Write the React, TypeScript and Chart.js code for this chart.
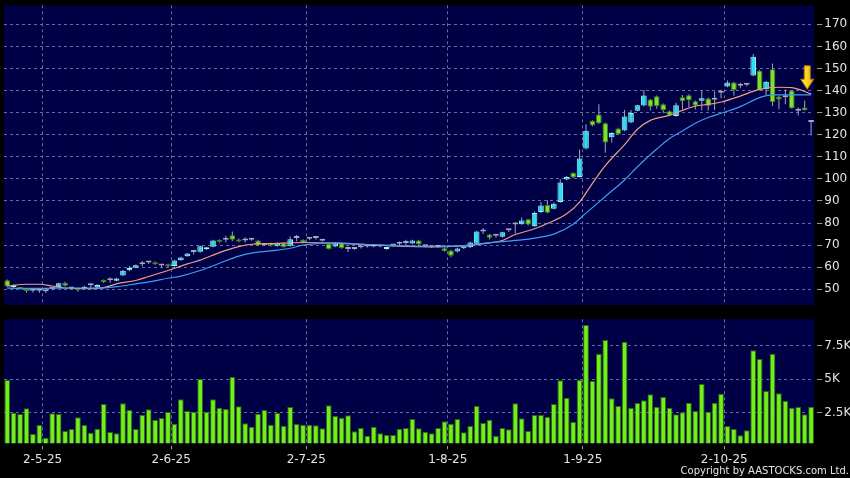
import React, { useEffect, useRef } from "react";
import { Chart, registerables } from "chart.js";

Chart.register(...registerables);

// ---------- data ----------
const dateLabels = ["2-5-25", "2-6-25", "2-7-25", "1-8-25", "1-9-25", "2-10-25"];
// month boundaries (between last bar of previous month and first bar of month)
const dateTickIdx = [5.5, 25.5, 46.5, 68.5, 89.5, 111.5];

const priceTicks = [50, 60, 70, 80, 90, 100, 110, 120, 130, 140, 150, 160, 170];
const volTicks = [2500, 5000, 7500];
const volTickLabels = ["2.5K", "5K", "7.5K"];

const openPrices = [
  54.1, 51, 50.7, 49.8, 49.4, 49.3, 49.1, 50.2, 50.9, 52.9,
  50.4, 50.2, 50.3, 51.8, 50.8, 54.2, 54.1, 53.9, 56.3, 58.6,
  59.8, 61.4, 62.2, 62.2, 60.8, 61.3, 60.6, 63.2, 65, 66.9,
  67, 68.1, 69.3, 72.3, 72.5, 74.5, 72.4, 72.1, 72.4, 72.1,
  70, 70.9, 69.7, 70.9, 69.7, 73.2, 72.4, 72.9, 73.2, 72,
  70.6, 69.4, 70.9, 68.3, 68.3, 69.1, 69.4, 69.4, 69.4, 68.2,
  69.8, 70.6, 71, 70.8, 72.1, 69.5, 69.1, 69.2, 68.6, 67.6,
  67.1, 68.6, 69, 70.6, 76.2, 74.8, 74.2, 73.8, 76.7, 79.4,
  79.5, 81.7, 78.6, 85, 88.2, 86.5, 89.5, 99.7, 102.7, 100.9,
  113.8, 126.2, 129.2, 125.2, 118.8, 122.8, 121.9, 125.5, 130.9, 133.2,
  135.9, 137.4, 133.8, 130.6, 128.5, 137, 137.9, 135.2, 135.4, 136.4,
  135.8, 139, 141.8, 143.7, 142.2, 142.6, 146.8, 149, 140.7, 149.6,
  137.2, 137, 140, 130.8, 132.3, 125.8,
];
const highPrices = [
  54.5, 52.2, 51, 50.2, 50.2, 50.4, 49.8, 50.8, 53, 53.4,
  50.9, 50.8, 51.6, 52.6, 52.3, 54.4, 55.3, 55.2, 58.8, 60.6,
  61.2, 62.8, 62.8, 62.6, 61.5, 61.6, 63.4, 64.7, 66.5, 67.9,
  69.8, 69.2, 72.4, 72.6, 74.2, 76.2, 73, 73.6, 72.8, 72.5,
  70.5, 71.2, 71.2, 71.2, 73.9, 74.6, 72.7, 73.6, 74, 72.5,
  71, 71.2, 71.2, 69.4, 68.8, 69.6, 69.9, 70.4, 69.8, 69.3,
  70.3, 71.6, 72.4, 72.4, 72.4, 70, 69.6, 70, 68.9, 67.9,
  68.8, 69.2, 71.6, 76.5, 77.8, 75.1, 74.6, 76.1, 77.4, 80.5,
  82.5, 82, 85.2, 89.5, 90.3, 89.3, 99.8, 101.3, 103, 113.3,
  124.7, 126.5, 133.8, 125.5, 121.1, 123.1, 131.3, 131.2, 133.6, 140.2,
  136.2, 137.8, 134.1, 131, 134.5, 138, 138.3, 135.5, 140, 136.8,
  139.6, 140.4, 144.5, 144, 143.5, 143.2, 156.5, 149.3, 144.3, 152.3,
  137.5, 140.5, 140.3, 132.3, 135.5, 126,
];
const lowPrices = [
  51, 50.6, 49.8, 48.5, 48.6, 48.5, 48.3, 49.6, 50.7, 51.3,
  50, 48.9, 50, 50.6, 50.6, 52.9, 53, 53.6, 56, 58.2,
  59.5, 60.3, 61.5, 61.1, 60, 60, 60.3, 62.9, 64.7, 65.8,
  66.7, 67.8, 69, 71.1, 71.2, 71.8, 71.3, 71.2, 72, 69.8,
  69.6, 69.4, 69.3, 68.9, 69.4, 71.8, 70.9, 72.2, 72.6, 71.6,
  68, 69.1, 68.4, 66.9, 67.9, 68.5, 68.9, 69.1, 69, 67.9,
  69.3, 69.5, 70.1, 70.5, 70.1, 69, 68.7, 68.8, 67, 64.5,
  66.7, 68.1, 68.7, 70.3, 75.1, 72.6, 73.3, 73.5, 75.9, 75.3,
  79.2, 78.9, 78.2, 84.6, 84.4, 86.2, 89.2, 99.4, 100.3, 100.6,
  113.3, 123.8, 124.9, 111.8, 116.5, 120, 121.6, 125.2, 130.6, 132.9,
  131, 131.8, 129.7, 128.4, 128.2, 131.5, 132.5, 131.4, 131, 130.8,
  131.2, 136.5, 141.5, 137.6, 141, 142, 146.5, 140, 138, 133,
  131.5, 133.8, 131.8, 128.8, 130.8, 119.6,
];
const closePrices = [
  51.4, 51.6, 50.1, 49.2, 49.4, 49.3, 49.1, 50.2, 52.7, 51.6,
  50.4, 49.6, 51.2, 51.8, 52, 53.2, 54.1, 54.9, 58.4, 59.6,
  60.9, 61.4, 62.2, 61.4, 60.8, 60.4, 63.1, 64.4, 66.2, 66.9,
  69.5, 68.9, 72.1, 71.5, 72.5, 72.4, 71.7, 72.1, 72.4, 70,
  70, 69.7, 70.9, 69.2, 72.7, 73.2, 71.2, 72.9, 73.2, 72,
  68.3, 70.9, 68.7, 68.3, 68.3, 69.1, 69.4, 70, 69.4, 69,
  69.8, 70.6, 71, 72.1, 70.4, 69.5, 69.1, 69.6, 67.3, 65.2,
  68.5, 68.6, 71.2, 76.2, 76.2, 73.3, 74.2, 75.8, 76.7, 79.4,
  81.2, 79.3, 84.5, 87.9, 84.7, 88.8, 98.4, 100.9, 100.6, 109.2,
  121.8, 124.2, 125.2, 116.5, 120.8, 120.3, 128.3, 129.8, 133.3, 137.8,
  132.7, 133, 131.2, 128.7, 133.4, 135.2, 135.6, 133.2, 136.5, 133.1,
  135.8, 139, 143.7, 140.3, 142.2, 142.6, 155.3, 140.3, 144, 134.8,
  136, 137, 132, 130.8, 131.1, 125.8,
];
const volumes = [
  4950, 2500, 2400, 2825, 900, 1575, 625, 2450, 2400, 1125,
  1275, 2150, 1575, 1000, 1300, 3150, 1050, 950, 3200, 2700,
  1275, 2350, 2750, 1950, 2100, 2550, 1675, 3500, 2625, 2575,
  5025, 2575, 3500, 2875, 2775, 5175, 2975, 1700, 1450, 2425,
  2700, 1600, 2475, 1525, 2925, 1650, 1600, 1600, 1550, 1325,
  3050, 2250, 2125, 2300, 1100, 1350, 775, 1450, 950, 825,
  825, 1300, 1350, 2025, 1325, 1075, 950, 1350, 1850, 1675,
  2025, 1025, 1500, 3000, 1725, 1975, 775, 1350, 1250, 3200,
  2075, 1125, 2325, 2325, 2175, 3150, 4925, 3625, 1800, 4975,
  9075, 4875, 6900, 7950, 3575, 3000, 7825, 2875, 3225, 3425,
  3875, 2950, 3675, 2875, 2375, 2525, 3250, 2625, 4650, 2575,
  3250, 3925, 1500, 1275, 800, 1175, 7175, 6525, 4125, 6925,
  3950, 3400, 2875, 2925, 2375, 2950,
];

// moving averages, read at these bar positions
const maShortIdx = [0, 3, 5, 7, 9, 13, 15, 17, 20, 22, 25, 28, 30, 33, 36, 38, 41, 46, 51, 56, 61, 64, 67, 70, 72, 75, 77, 79, 82, 84, 87, 89, 91, 93, 96, 98, 100, 103, 105, 107, 109, 111, 114, 117, 120, 122, 125];
const maShortVal = [51.5, 52.3, 52.3, 51.5, 50.6, 50.3, 50.8, 52.5, 54, 55.8, 58.5, 61.5, 63.2, 66.6, 69.3, 70.4, 70.7, 71.2, 70.9, 70.2, 69.5, 69.3, 69.2, 69.5, 69.9, 71, 72.1, 74.8, 77.4, 79.8, 84.2, 89.5, 98, 106, 115.5, 122.5, 126.5, 128.8, 131, 133, 133.7, 134.8, 137.5, 140.5, 141.5, 141.3, 138.5];
const maLongIdx = [0, 5, 10, 14, 17, 20, 22, 25, 27, 30, 33, 36, 38, 41, 44, 46, 48, 51, 56, 61, 66, 71, 74, 77, 80, 82, 85, 88, 90, 92, 94, 96, 98, 101, 103, 105, 107, 109, 111, 114, 117, 119, 122, 125];
const maLongVal = [50.5, 50.4, 50.6, 50.5, 51.2, 52.5, 53.4, 55, 56, 58.5, 61.8, 65, 66.4, 67.4, 68.6, 70, 70.7, 71, 70.3, 69.8, 69.5, 69.8, 70.8, 71.6, 72.4, 73.2, 75, 79.5, 84.5, 89.5, 94.5, 99.5, 105.5, 113.5, 118.3, 121.7, 125.2, 127.8, 129.7, 132.7, 136.8, 138, 138, 138];

const copyrightText = "Copyright by AASTOCKS.com Ltd.";

// ---------- styles ----------
const NAVY = "#000046";
const GRID = "#6a6a9c";
const TEXT = "#e4e4e4";
const TICK = "#9a9aa8";
const UP_FILL = "#30dcee";
const UP_BORDER = "#9af6ff";
const DN_FILL = "#7ee22c";
const DN_BORDER = "#3d8a12";
const DOJI = "#a8a8b8";
const WICK = "#a0a0b0";
const VOL_FILL = "#72ee1a";
const VOL_BORDER = "#2c6a08";
const MA_SHORT = "#ef9e80";
const MA_LONG = "#3f9cf0";
const FONT = "'DejaVu Sans', sans-serif";

const N = openPrices.length;
const XMIN = -0.5;
const XMAX = N - 0.5;

const plotBg = {
  id: "plotBg",
  beforeDraw(chart: any) {
    const { ctx, chartArea: a } = chart;
    ctx.save();
    ctx.fillStyle = NAVY;
    ctx.fillRect(a.left, a.top, a.right - a.left, a.bottom - a.top);
    ctx.restore();
  },
};

const arrowMarker = {
  id: "arrowMarker",
  afterDatasetsDraw(chart: any) {
    const { ctx, scales } = chart;
    const cx = scales.x.getPixelForValue(124.4);
    const top = scales.y.getPixelForValue(151.2);
    const tip = scales.y.getPixelForValue(140.6);
    const headH = 10;
    const shaft = 3;
    const head = 6.5;
    ctx.save();
    const g = ctx.createLinearGradient(cx - head, 0, cx + head, 0);
    g.addColorStop(0, "#ffe36a");
    g.addColorStop(0.5, "#ffd21c");
    g.addColorStop(1, "#e8a400");
    ctx.fillStyle = g;
    ctx.strokeStyle = "#b57a00";
    ctx.lineWidth = 1;
    ctx.beginPath();
    ctx.moveTo(cx - shaft, top);
    ctx.lineTo(cx + shaft, top);
    ctx.lineTo(cx + shaft, tip - headH);
    ctx.lineTo(cx + head, tip - headH);
    ctx.lineTo(cx, tip);
    ctx.lineTo(cx - head, tip - headH);
    ctx.lineTo(cx - shaft, tip - headH);
    ctx.closePath();
    ctx.fill();
    ctx.stroke();
    ctx.restore();
  },
};

const copyright = {
  id: "copyright",
  afterDraw(chart: any) {
    const { ctx, width, height } = chart;
    ctx.save();
    ctx.font = "10px " + FONT;
    ctx.fillStyle = TEXT;
    ctx.textAlign = "right";
    ctx.textBaseline = "alphabetic";
    ctx.fillText(copyrightText, width - 1, height - 4);
    ctx.restore();
  },
};

const candleColor = (i: number) =>
  closePrices[i] > openPrices[i] ? UP_FILL : closePrices[i] < openPrices[i] ? DN_FILL : DOJI;
const candleBorder = (i: number) =>
  closePrices[i] > openPrices[i] ? UP_BORDER : closePrices[i] < openPrices[i] ? DN_BORDER : DOJI;

const noPadY = (w: number) => (s: any) => {
  s.width = w;
  s.paddingTop = 0;
  s.paddingBottom = 0;
};

export default function App() {
  const mainRef = useRef<HTMLCanvasElement>(null);
  const volRef = useRef<HTMLCanvasElement>(null);

  useEffect(() => {
    document.body.style.margin = "0";
    document.body.style.background = "#000";
    const idx = openPrices.map((_, i) => i);

    const main = new Chart(mainRef.current as HTMLCanvasElement, {
      type: "bar",
      data: {
        datasets: [
          {
            type: "bar",
            label: "wick",
            data: idx.map((i) => ({ x: i, y: [lowPrices[i], highPrices[i]] })) as any,
            backgroundColor: WICK,
            borderWidth: 0,
            barPercentage: 0.16,
            categoryPercentage: 1,
            grouped: false,
            order: 3,
          },
          {
            type: "bar",
            label: "body",
            data: idx.map((i) => ({ x: i, y: [openPrices[i], closePrices[i]] })) as any,
            backgroundColor: idx.map(candleColor),
            borderColor: idx.map(candleBorder),
            borderWidth: 1,
            borderSkipped: false,
            minBarLength: 2,
            barPercentage: 0.88,
            categoryPercentage: 1,
            grouped: false,
            order: 2,
          },
          {
            type: "line",
            label: "MA short",
            data: maShortIdx.map((x, k) => ({ x, y: maShortVal[k] })) as any,
            borderColor: MA_SHORT,
            borderWidth: 1.2,
            pointRadius: 0,
            cubicInterpolationMode: "monotone",
            order: 1,
          },
          {
            type: "line",
            label: "MA long",
            data: maLongIdx.map((x, k) => ({ x, y: maLongVal[k] })) as any,
            borderColor: MA_LONG,
            borderWidth: 1.2,
            pointRadius: 0,
            cubicInterpolationMode: "monotone",
            order: 0,
          },
        ],
      },
      options: {
        responsive: false,
        animation: false,
        events: [],
        layout: { padding: { left: 4, top: 5.3, right: 0, bottom: 5 } },
        plugins: { legend: { display: false }, tooltip: { enabled: false } },
        scales: {
          x: {
            type: "linear",
            min: XMIN,
            max: XMAX,
            offset: false,
            afterBuildTicks: (s: any) => {
              s.ticks = dateTickIdx.map((v) => ({ value: v }));
            },
            afterFit: (s: any) => {
              s.height = 0;
              s.paddingLeft = 0;
              s.paddingRight = 0;
            },
            ticks: { display: false },
            grid: { color: GRID, offset: false, drawTicks: false, borderDash: [3, 3] } as any,
            border: { display: false, dash: [3, 3] },
          },
          y: {
            type: "linear",
            position: "right",
            min: 42.9,
            max: 178.6,
            afterBuildTicks: (s: any) => {
              s.ticks = priceTicks.map((v) => ({ value: v }));
            },
            afterFit: noPadY(35.7),
            ticks: {
              color: TEXT,
              padding: 2,
              font: { family: FONT, size: 12 },
              callback: (v: any) => String(v),
            },
            grid: {
              color: GRID,
              drawTicks: true,
              tickLength: 8,
              tickColor: TICK,
              tickBorderDash: [0, 3, 5],
              borderDash: [3, 3],
            } as any,
            border: { display: false, dash: [3, 3] },
          },
        },
      },
      plugins: [plotBg, arrowMarker],
    } as any);

    const vol = new Chart(volRef.current as HTMLCanvasElement, {
      type: "bar",
      data: {
        datasets: [
          {
            label: "volume",
            data: idx.map((i) => ({ x: i, y: volumes[i] })) as any,
            backgroundColor: VOL_FILL,
            borderColor: VOL_BORDER,
            borderWidth: 1,
            borderSkipped: "start",
            barPercentage: 0.9,
            categoryPercentage: 1,
          },
        ],
      },
      options: {
        responsive: false,
        animation: false,
        events: [],
        layout: { padding: { left: 4, top: 9.3, right: 0, bottom: 0 } },
        plugins: { legend: { display: false }, tooltip: { enabled: false } },
        scales: {
          x: {
            type: "linear",
            min: XMIN,
            max: XMAX,
            offset: false,
            afterBuildTicks: (s: any) => {
              s.ticks = dateTickIdx.map((v) => ({ value: v }));
            },
            afterFit: (s: any) => {
              s.height = 34.7;
              s.paddingLeft = 0;
              s.paddingRight = 0;
            },
            ticks: {
              color: TEXT,
              padding: 3,
              autoSkip: false,
              maxRotation: 0,
              font: { family: FONT, size: 12 },
              callback: (_v: any, k: number) => dateLabels[k],
            },
            grid: {
              color: GRID,
              offset: false,
              drawTicks: true,
              tickLength: 6,
              tickColor: TICK,
              tickBorderDash: [0, 3, 3],
              borderDash: [3, 3],
            } as any,
            border: { display: false, dash: [3, 3] },
          },
          y: {
            type: "linear",
            position: "right",
            min: 200,
            max: 9500,
            afterBuildTicks: (s: any) => {
              s.ticks = volTicks.map((v) => ({ value: v }));
            },
            afterFit: noPadY(35.7),
            ticks: {
              color: TEXT,
              padding: 2,
              font: { family: FONT, size: 12 },
              callback: (_v: any, k: number) => volTickLabels[k],
            },
            grid: {
              color: GRID,
              drawTicks: true,
              tickLength: 8,
              tickColor: TICK,
              tickBorderDash: [0, 3, 5],
              borderDash: [3, 3],
            } as any,
            border: { display: false, dash: [3, 3] },
          },
        },
      },
      plugins: [plotBg, copyright],
    } as any);

    return () => {
      main.destroy();
      vol.destroy();
    };
  }, []);

  return (
    <div
      style={{
        position: "absolute",
        left: 0,
        top: 0,
        width: 850,
        height: 478,
        background: "#000",
        overflow: "hidden",
      }}
    >
      <canvas
        ref={mainRef}
        width={850}
        height={310}
        style={{ position: "absolute", left: 0, top: 0, width: 850, height: 310 }}
      />
      <canvas
        ref={volRef}
        width={850}
        height={168}
        style={{ position: "absolute", left: 0, top: 310, width: 850, height: 168 }}
      />
    </div>
  );
}
